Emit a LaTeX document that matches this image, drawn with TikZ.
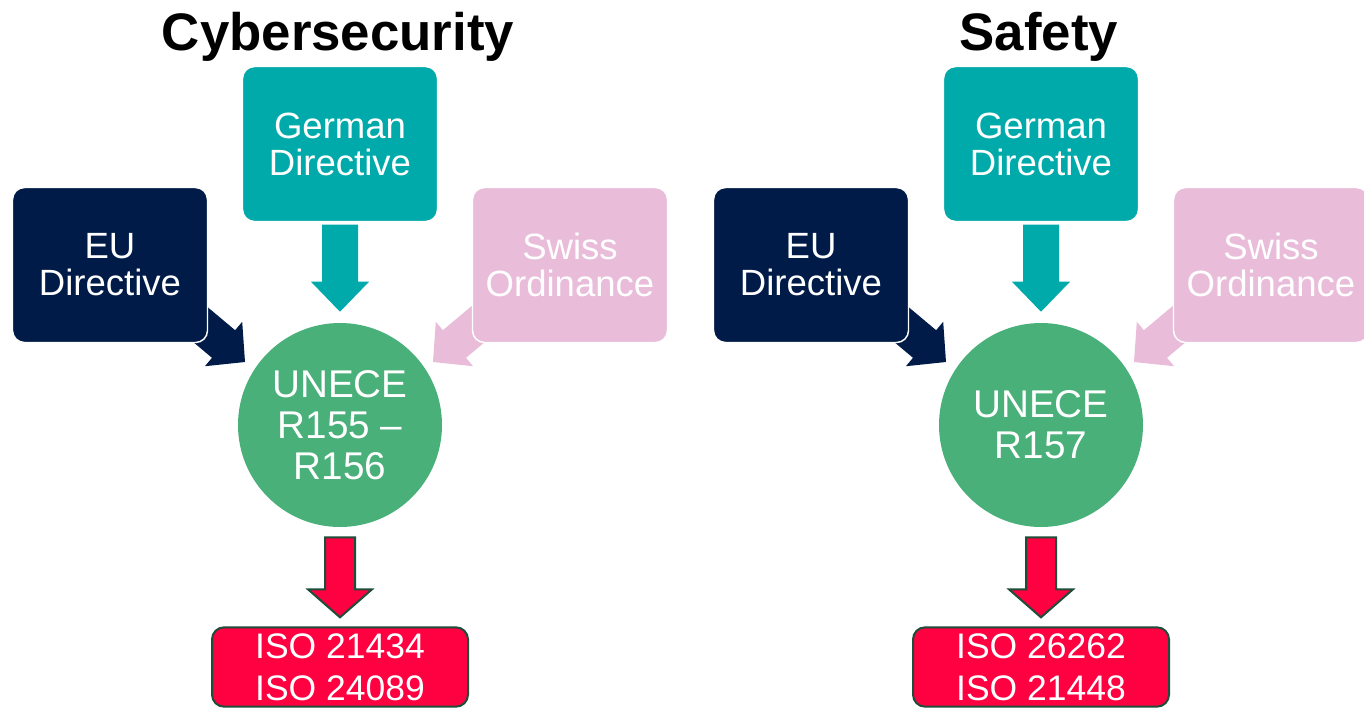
\documentclass[tikz,border=0pt]{standalone}
\usepackage{fontspec}
\setmainfont{Liberation Sans}
\usetikzlibrary{calc,backgrounds}

\definecolor{euNavy}{RGB}{0,27,72}
\definecolor{deTeal}{RGB}{0,170,170}
\definecolor{chPink}{RGB}{233,189,218}
\definecolor{uneGreen}{RGB}{74,176,122}
\definecolor{isoRed}{RGB}{255,0,64}
\definecolor{isoEdge}{RGB}{30,78,58}

\pgfdeclarelayer{canvas}
\pgfsetlayers{canvas,background,main}

\tikzset{
  src/.style={rounded corners=9pt, draw=white, line width=1.1pt,
    minimum width=146.25pt, minimum height=116.25pt, inner sep=0pt,
    text=white, align=center, font=\fontsize{27.4}{27.75}\selectfont},
  unece/.style={circle, fill=uneGreen, minimum size=153pt, inner sep=0pt,
    text=white, align=center, font=\fontsize{29}{30.75}\selectfont},
  iso/.style={rounded corners=9pt, fill=isoRed, draw=isoEdge, line width=1.5pt,
    minimum width=192pt, minimum height=59.5pt, inner sep=0pt,
    text=white, align=center, font=\fontsize{26.6}{31.5}\selectfont},
  paneltitle/.style={anchor=base, font=\fontsize{39.6}{44}\selectfont\bfseries},
  % block arrow, tip at the origin, pointing down;
  % #1 shaft half width, #2 head half width, #3 head length, #4 total length
  pics/blockarrow/.style n args={4}{code={
    \path[pic actions] (0,0) -- (-#2,-#3) -- (-#1,-#3) -- (-#1,-#4)
      -- (#1,-#4) -- (#1,-#3) -- (#2,-#3) -- cycle;
  }},
}

% one regulation panel: #1 prefix, #2 horizontal offset, #3 title,
% #4 regulation text, #5 standards text
\newcommand\regpanel[5]{%
\begin{scope}[shift={(#2,0)}]
  \node[paneltitle] (#1-title) at (338,50) {#3};
  \node[src, fill=deTeal] (#1-de) at (340,144) {German\\Directive};
  \node[src, fill=euNavy] (#1-eu) at (110,265) {EU\\Directive};
  \node[src, fill=chPink] (#1-ch) at (570,265) {Swiss\\Ordinance};
  \node[unece] (#1-un) at (340,425) {#4};
  \node[iso] (#1-iso) at (340,667) {#5};
  \begin{pgfonlayer}{background}
    \pic[fill=deTeal] at ($(#1-un.north)+(0,-11)$) {blockarrow={18}{29}{30}{87}};
    \pic[fill=euNavy, rotate=50] at ($(#1-un.center)+(-95,-63)$) {blockarrow={18}{29}{28}{95}};
    \pic[fill=chPink, rotate=-50] at ($(#1-un.center)+(93,-63)$) {blockarrow={18}{29}{28}{95}};
    \pic[fill=isoRed, draw=isoEdge, line width=1.5pt] at ($(#1-iso.north)+(0,-9)$) {blockarrow={15}{32}{28}{80}};
  \end{pgfonlayer}
\end{scope}}

\begin{document}
\begin{tikzpicture}[x=0.75pt, y=-0.75pt]
  \begin{pgfonlayer}{canvas}
    \fill[white] (0,0) rectangle (1364,707);
  \end{pgfonlayer}
  \path[use as bounding box] (0,0) rectangle (1364,707);
  \clip (0,0) rectangle (1364,707);
  \regpanel{cs}{0}{Cybersecurity}{UNECE\\R155 --\\R156}{ISO 21434\\ISO 24089}
  \regpanel{sf}{701}{Safety}{UNECE\\R157}{ISO 26262\\ISO 21448}
\end{tikzpicture}
\end{document}
